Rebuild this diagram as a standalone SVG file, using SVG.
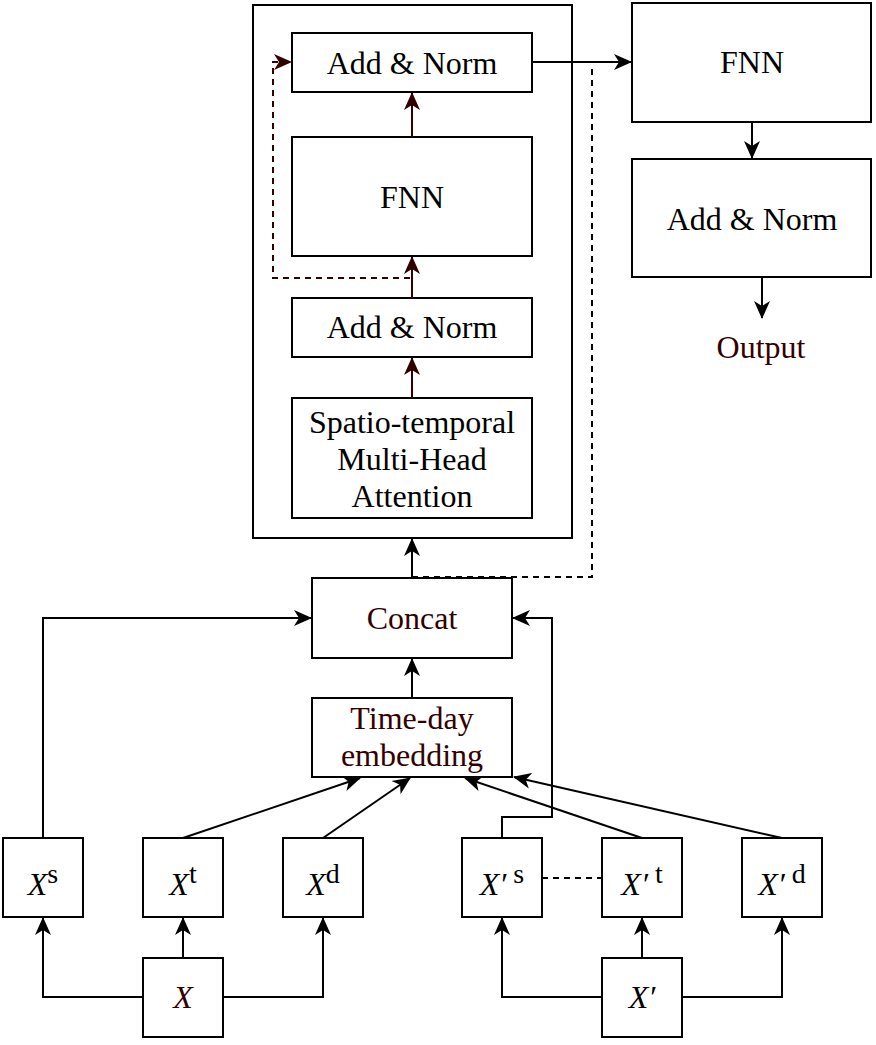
<svg xmlns="http://www.w3.org/2000/svg" width="876" height="1045" viewBox="0 0 876 1045">
<style>
.box{fill:#fff;stroke:#000;stroke-width:2}
.t{font-family:"Liberation Serif","Times New Roman",serif;font-size:32px;text-anchor:middle;fill:#000}
.r{fill:#330000}
.it{font-style:italic}
.sup{font-size:28px}
.c{fill:none;stroke:#000;stroke-width:2}
.cr{fill:none;stroke:#330000;stroke-width:2}
.d{stroke-dasharray:6,5}
</style>
<defs>
<marker id="a" viewBox="0 0 18 18" refX="17" refY="9" markerWidth="18" markerHeight="18" markerUnits="userSpaceOnUse" orient="auto">
<path d="M0,1 L18,9 L0,17 L5,9 Z" fill="#000"/>
</marker>
<marker id="ar" viewBox="0 0 18 18" refX="17" refY="9" markerWidth="18" markerHeight="18" markerUnits="userSpaceOnUse" orient="auto">
<path d="M0,1 L18,9 L0,17 L5,9 Z" fill="#330000"/>
</marker>
</defs>
<rect width="876" height="1045" fill="#fff"/>
<g id="encoder"><rect class="box" x="253" y="5" width="319" height="533"/></g>
<g id="addnorm1"><rect class="box" x="292" y="33" width="240" height="59"/><text class="t" x="412" y="74">Add &amp; Norm</text></g>
<g id="fnn1"><rect class="box" x="292" y="137" width="240" height="119"/><text class="t" x="412" y="208">FNN</text></g>
<g id="addnorm2"><rect class="box" x="292" y="298" width="240" height="59"/><text class="t" x="412" y="338">Add &amp; Norm</text></g>
<g id="attn"><rect class="box" x="292" y="398" width="240" height="120"/><text class="t" x="412" y="433">Spatio-temporal</text><text class="t" x="412" y="470">Multi-Head</text><text class="t" x="412" y="507">Attention</text></g>
<g id="fnn2"><rect class="box" x="632" y="3" width="239" height="119"/><text class="t" x="752" y="73">FNN</text></g>
<g id="addnorm3"><rect class="box" x="632" y="159" width="239" height="118"/><text class="t" x="752" y="230">Add &amp; Norm</text></g>
<g id="output"><text class="t r" x="761" y="358">Output</text></g>
<g id="concat"><rect class="box" x="312" y="578" width="200" height="80"/><text class="t r" x="412" y="629">Concat</text></g>
<g id="timeday"><rect class="box" x="312" y="698" width="200" height="79"/><text class="t r" x="412" y="729">Time-day</text><text class="t r" x="412" y="766">embedding</text></g>
<g id="xs"><rect class="box" x="3" y="838" width="80" height="79"/><text class="t" x="43" y="895"><tspan class="it">X</tspan><tspan class="sup" dy="-12">s</tspan></text></g>
<g id="xt"><rect class="box" x="143" y="838" width="80" height="79"/><text class="t" x="183" y="895"><tspan class="it">X</tspan><tspan class="sup" dy="-12">t</tspan></text></g>
<g id="xd"><rect class="box" x="283" y="838" width="80" height="79"/><text class="t" x="323" y="895"><tspan class="it">X</tspan><tspan class="sup" dy="-12">d</tspan></text></g>
<g id="x"><rect class="box" x="143" y="958" width="80" height="79"/><text class="t r it" x="183" y="1008">X</text></g>
<g id="xps"><rect class="box" x="462" y="838" width="80" height="79"/><text class="t" x="502" y="895"><tspan class="it">X′</tspan><tspan class="sup" dy="-12"> s</tspan></text></g>
<g id="xpt"><rect class="box" x="602" y="838" width="80" height="79"/><text class="t" x="642" y="895"><tspan class="it">X′</tspan><tspan class="sup" dy="-12"> t</tspan></text></g>
<g id="xpd"><rect class="box" x="742" y="838" width="80" height="79"/><text class="t" x="782" y="895"><tspan class="it">X′</tspan><tspan class="sup" dy="-12"> d</tspan></text></g>
<g id="xp"><rect class="box" x="602" y="958" width="80" height="79"/><text class="t it" x="642" y="1008">X′</text></g>
<g id="connectors">
<path class="c" d="M143,997 H43 V918" marker-end="url(#a)"/>
<path class="c" d="M183,958 V918" marker-end="url(#a)"/>
<path class="c" d="M223,997 H323 V918" marker-end="url(#a)"/>
<path class="c" d="M602,997 H502 V918" marker-end="url(#a)"/>
<path class="c" d="M642,958 V918" marker-end="url(#a)"/>
<path class="c" d="M682,997 H782 V918" marker-end="url(#a)"/>
<path class="c" d="M43,838 V618 H311" marker-end="url(#a)"/>
<path class="c" d="M183,838 L360,778" marker-end="url(#a)"/>
<path class="c" d="M323,838 L410,778" marker-end="url(#a)"/>
<path class="c" d="M642,838 L465,778" marker-end="url(#a)"/>
<path class="c" d="M782,838 L514,777" marker-end="url(#a)"/>
<path class="c" d="M502,838 V817 H552 V618 H513" marker-end="url(#a)"/>
<path class="c d" d="M542,878 H602"/>
<path class="c" d="M412,698 V659" marker-end="url(#a)"/>
<path class="c" d="M412,578 V539" marker-end="url(#a)"/>
<path class="c d" d="M412,577 H592 V64"/>
<path class="c" d="M532,62 H631" marker-end="url(#a)"/>
<path class="cr" d="M412,398 V358" marker-end="url(#ar)"/>
<path class="cr" d="M412,298 V257" marker-end="url(#ar)"/>
<path class="cr" d="M412,137 V93" marker-end="url(#ar)"/>
<path class="cr d" d="M410,278 H273 V62 H291" marker-end="url(#ar)"/>
<path class="c" d="M752,122 V158" marker-end="url(#a)"/>
<path class="c" d="M762,277 V318" marker-end="url(#a)"/>
</g>
</svg>
